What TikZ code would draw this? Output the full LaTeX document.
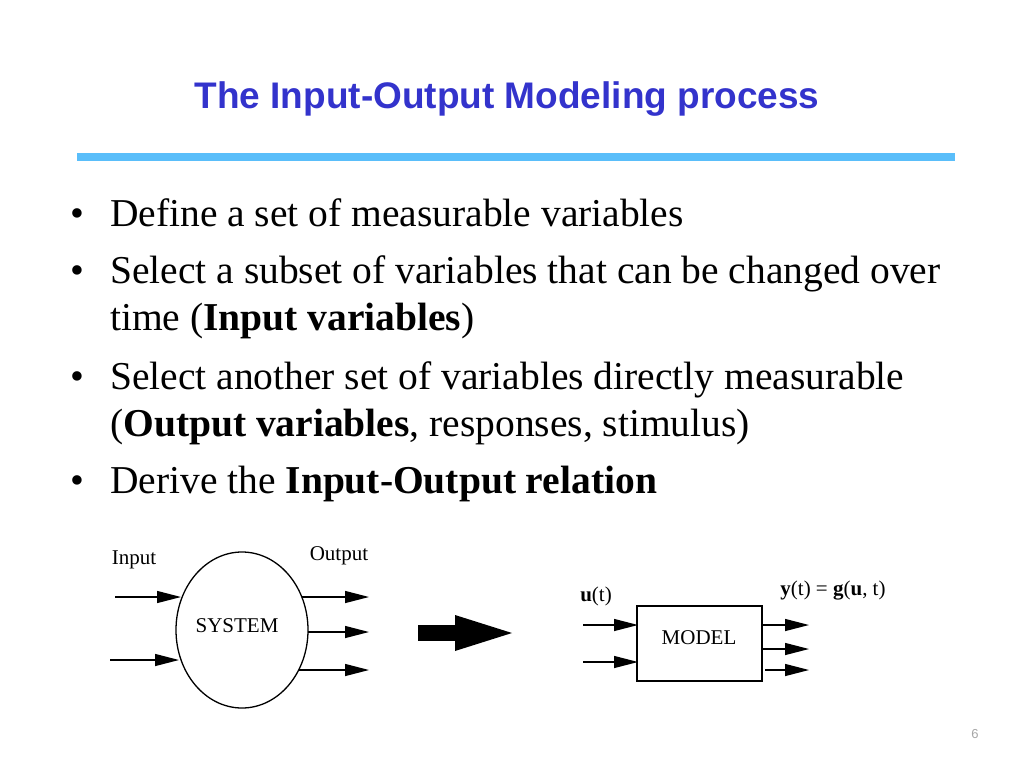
\documentclass[tikz,border=0pt]{standalone}
\usepackage{fontspec}
\setmainfont{Liberation Serif}
\newfontfamily\titlefont{Liberation Sans}
\usetikzlibrary{arrows.meta}
\definecolor{ttl}{RGB}{51,51,204}
\definecolor{bar}{RGB}{90,190,250}
\begin{document}
\begin{tikzpicture}[x=1pt,y=-1pt,
  ar/.style={-{Triangle[length=24pt,width=12pt]},line width=1.3pt},
  bl/.style={anchor=base west,font=\fontsize{39.5}{44}\selectfont,inner sep=0},
  sm/.style={font=\fontsize{21}{24}\selectfont,inner sep=0}]
\useasboundingbox (0,0) rectangle (1024,768);
\node[anchor=base,font=\titlefont\bfseries\fontsize{37}{40}\selectfont,text=ttl,inner sep=0] (title) at (507,108) {The Input-Output Modeling process};
\fill[bar] (77,153) rectangle (955,161);
\node[bl] (b1) at (70,226) {•};
\node[bl] (t1) at (110,226) {Define a set of measurable variables};
\node[bl] (b2) at (70,283) {•};
\node[bl] (t2) at (110,283) {Select a subset of variables that can be changed over};
\node[bl] (t2b) at (110,330) {time (\textbf{Input variables})};
\node[bl] (b3) at (70,389) {•};
\node[bl] (t3) at (110,389) {Select another set of variables directly measurable};
\node[bl] (t3b) at (110,436) {(\textbf{Output variables}, responses, stimulus)};
\node[bl] (b4) at (70,493) {•};
\node[bl] (t4) at (110,493) {Derive the \textbf{Input-Output relation}};
% system
\draw[line width=1.3pt] (242,630) ellipse [x radius=66, y radius=78];
\node[sm] (sys) at (237,626) {SYSTEM};
\node[sm] (in) at (134,560) {Input};
\node[sm] (out) at (339,556) {Output};
\coordinate (i1) at (115,597); \coordinate (i1e) at (181,597);
\coordinate (i2) at (110,660); \coordinate (i2e) at (179,660);
\draw[ar] (i1) -- (i1e); \draw[ar] (i2) -- (i2e);
\coordinate (o1) at (302,597); \coordinate (o1e) at (369,597);
\coordinate (o2) at (308,632); \coordinate (o2e) at (369,632);
\coordinate (o3) at (299,670); \coordinate (o3e) at (369,670);
\draw[ar] (o1) -- (o1e); \draw[ar] (o2) -- (o2e); \draw[ar] (o3) -- (o3e);
% big arrow
\fill (418,625) rectangle (456,641);
\fill (455,615) -- (512,633) -- (455,651) -- cycle;
% model
\node[draw,line width=1.3pt,minimum width=125pt,minimum height=75pt,inner sep=0] (model) at (699.5,643.5) {};
\node[sm] (mt) at (699,638) {MODEL};
\node[sm] (u) at (596,596) {\textbf{u}(t)};
\node[sm] (y) at (833,591) {\textbf{y}(t) = \textbf{g}(\textbf{u}, t)};
\coordinate (m1) at (583,625); \coordinate (m1e) at (638,625);
\coordinate (m2) at (583,662); \coordinate (m2e) at (638,662);
\draw[ar] (m1) -- (m1e); \draw[ar] (m2) -- (m2e);
\coordinate (n1) at (761,625); \coordinate (n1e) at (809,625);
\coordinate (n2) at (761,649); \coordinate (n2e) at (809,649);
\coordinate (n3) at (765,670); \coordinate (n3e) at (809,670);
\draw[ar] (n1) -- (n1e); \draw[ar] (n2) -- (n2e); \draw[ar] (n3) -- (n3e);
\node[font=\titlefont\fontsize{13}{14}\selectfont,text=gray!70,inner sep=0] (pg) at (975,734) {6};
\end{tikzpicture}
\end{document}
